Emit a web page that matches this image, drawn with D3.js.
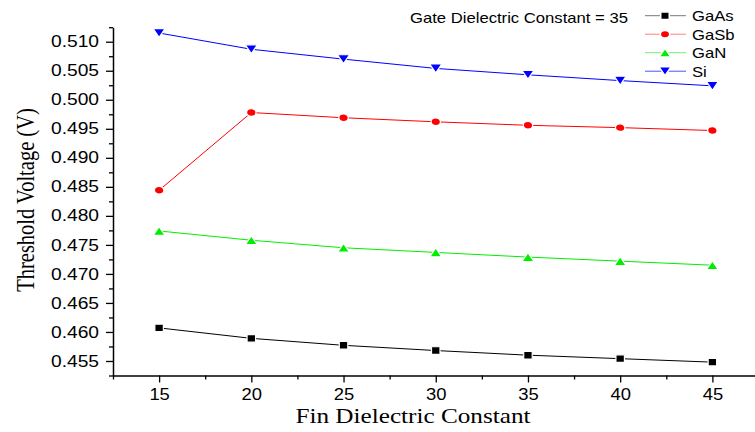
<!DOCTYPE html>
<html>
<head>
<meta charset="utf-8">
<script src="https://cdn.jsdelivr.net/npm/d3@7"></script>
<style>
  html, body { margin: 0; padding: 0; background: #fff; }
  svg { display: block; }
</style>
</head>
<body>
<svg id="chart" width="755" height="432"></svg>
<script>
// Fin dielectric constant sweep (gate dielectric constant fixed at 35)
const finK = [15, 20, 25, 30, 35, 40, 45];
const gaAs = [0.4607, 0.4589, 0.4577, 0.4568, 0.4560, 0.4554, 0.4548];
const gaSb = [0.4844, 0.4978, 0.4969, 0.4962, 0.4956, 0.4952, 0.4947];
const gaN  = [0.4774, 0.4758, 0.4745, 0.4737, 0.4729, 0.4722, 0.4715];
const si   = [0.5115, 0.5087, 0.5070, 0.5054, 0.5043, 0.5033, 0.5024];
const yTicks = [0.455, 0.460, 0.465, 0.470, 0.475, 0.480, 0.485, 0.490, 0.495, 0.500, 0.505, 0.510];
const xTicks = [15, 20, 25, 30, 35, 40, 45];
const seriesNames = ["GaAs", "GaSb", "GaN", "Si"];
const annotation = "Gate Dielectric Constant = 35";

// Marker outlines, centred on their bounding box (w = width, h = height)
const markerPath = {
  square: (w, h) => `M${-w/2},${-h/2}H${w/2}V${h/2}H${-w/2}Z`,
  circle: (w, h) => `M${-w/2},0A${w/2},${h/2} 0 1,0 ${w/2},0A${w/2},${h/2} 0 1,0 ${-w/2},0Z`,
  up:     (w, h) => `M0,${-h/2}L${w/2},${h/2}L${-w/2},${h/2}Z`,
  down:   (w, h) => `M0,${h/2}L${w/2},${-h/2}L${-w/2},${-h/2}Z`
};

const series = [
  { name: seriesNames[0], values: gaAs, color: "#000000", legendLine: "#7a7a7a", marker: markerPath.square(8.5, 7.6) },
  { name: seriesNames[1], values: gaSb, color: "#ff0000", legendLine: "#ff8080", marker: markerPath.circle(9.4, 7.6) },
  { name: seriesNames[2], values: gaN,  color: "#00ee00", legendLine: "#70f070", marker: markerPath.up(12, 8.8) },
  { name: seriesNames[3], values: si,   color: "#0000ff", legendLine: "#5050ff", marker: markerPath.down(12, 8.8) }
];

const svg = d3.select("#chart");
const plotLeft = 113, plotTop = 27.2, plotBottom = 375.5;

const x = d3.scaleLinear().domain([12.5, 47.5]).range([plotLeft, 758.5]);
const y = d3.scaleLinear().domain([0.4525, 0.5125]).range([plotBottom, plotTop]);

const tickFont = "'Liberation Sans', Arial, sans-serif";
const titleFont = "'Liberation Serif', 'Times New Roman', serif";

// Widen text horizontally by factor k (the typeface runs slightly wide here)
function widen(sel, k) {
  sel.each(function () {
    const len = this.getComputedTextLength();
    d3.select(this).attr("textLength", len * k).attr("lengthAdjust", "spacingAndGlyphs");
  });
}

// Y axis: major ticks with labels, minor ticks between
const yMinor = d3.range(0.4525, 0.5126, 0.005);
const yAxisG = svg.append("g").attr("transform", `translate(${plotLeft},0)`);
yAxisG.call(d3.axisLeft(y).tickValues(yTicks).tickFormat(d3.format(".3f")).tickSize(7).tickPadding(7).tickSizeOuter(0));
yAxisG.append("g").call(d3.axisLeft(y).tickValues(yMinor).tickFormat("").tickSize(4).tickSizeOuter(0))
  .select(".domain").remove();
yAxisG.selectAll(".domain").attr("stroke", "#000").attr("stroke-width", 1.5);
yAxisG.selectAll(".tick line").attr("stroke", "#000").attr("stroke-width", 1.3);
yAxisG.selectAll(".tick text").attr("font-family", tickFont).attr("font-size", 16).attr("fill", "#000");
widen(yAxisG.selectAll(".tick text"), 1.2);

// X axis
const xMinor = d3.range(12.5, 47.6, 5);
const xAxisG = svg.append("g").attr("transform", `translate(0,${plotBottom})`);
xAxisG.call(d3.axisBottom(x).tickValues(xTicks).tickFormat(d3.format("d")).tickSize(7).tickPadding(6).tickSizeOuter(0));
xAxisG.append("g").call(d3.axisBottom(x).tickValues(xMinor).tickFormat("").tickSize(4).tickSizeOuter(0))
  .select(".domain").remove();
xAxisG.selectAll(".domain").attr("stroke", "#000").attr("stroke-width", 1.5);
xAxisG.selectAll(".tick line").attr("stroke", "#000").attr("stroke-width", 1.3);
xAxisG.selectAll(".tick text").attr("font-family", tickFont).attr("font-size", 16).attr("fill", "#000");
widen(xAxisG.selectAll(".tick text"), 1.15);

// Axis titles
const xTitle = svg.append("text")
  .attr("x", 413).attr("y", 423)
  .attr("text-anchor", "middle")
  .attr("font-family", titleFont).attr("font-size", 21)
  .text("Fin Dielectric Constant");
widen(xTitle, 1.2);

svg.append("text")
  .attr("transform", `translate(33.5,200) rotate(-90) scale(1,1.2)`)
  .attr("text-anchor", "middle")
  .attr("font-family", titleFont).attr("font-size", 20.5)
  .text("Threshold Voltage (V)");

// Lines and markers
const line = d3.line().x((d, i) => x(finK[i])).y(d => y(d));
series.forEach(s => {
  svg.append("path")
    .datum(s.values)
    .attr("fill", "none")
    .attr("stroke", s.color)
    .attr("stroke-width", 1)
    .attr("d", line);
  svg.append("g").selectAll("path")
    .data(s.values)
    .join("path")
    .attr("d", s.marker)
    .attr("transform", (d, i) => `translate(${x(finK[i])},${y(d)})`)
    .attr("fill", s.color)
    .attr("stroke", "#fff")
    .attr("stroke-width", 1.2);
});

// Annotation and legend
const note = svg.append("text")
  .attr("x", 410).attr("y", 22.5)
  .attr("font-family", tickFont).attr("font-size", 15)
  .text(annotation);
widen(note, 1.11);

const legend = svg.append("g");
series.forEach((s, i) => {
  const ly = 15.7 + i * 18.5;
  legend.append("line")
    .attr("x1", 645).attr("x2", 686).attr("y1", ly).attr("y2", ly)
    .attr("stroke", s.legendLine).attr("stroke-width", 1);
  legend.append("path")
    .attr("d", s.marker)
    .attr("transform", `translate(665,${ly})`)
    .attr("fill", s.color)
    .attr("stroke", "#fff")
    .attr("stroke-width", 1.5);
  const t = legend.append("text")
    .attr("x", 692).attr("y", ly + 5.3)
    .attr("font-family", tickFont).attr("font-size", 15)
    .text(s.name);
  widen(t, 1.11);
});
</script>
</body>
</html>
